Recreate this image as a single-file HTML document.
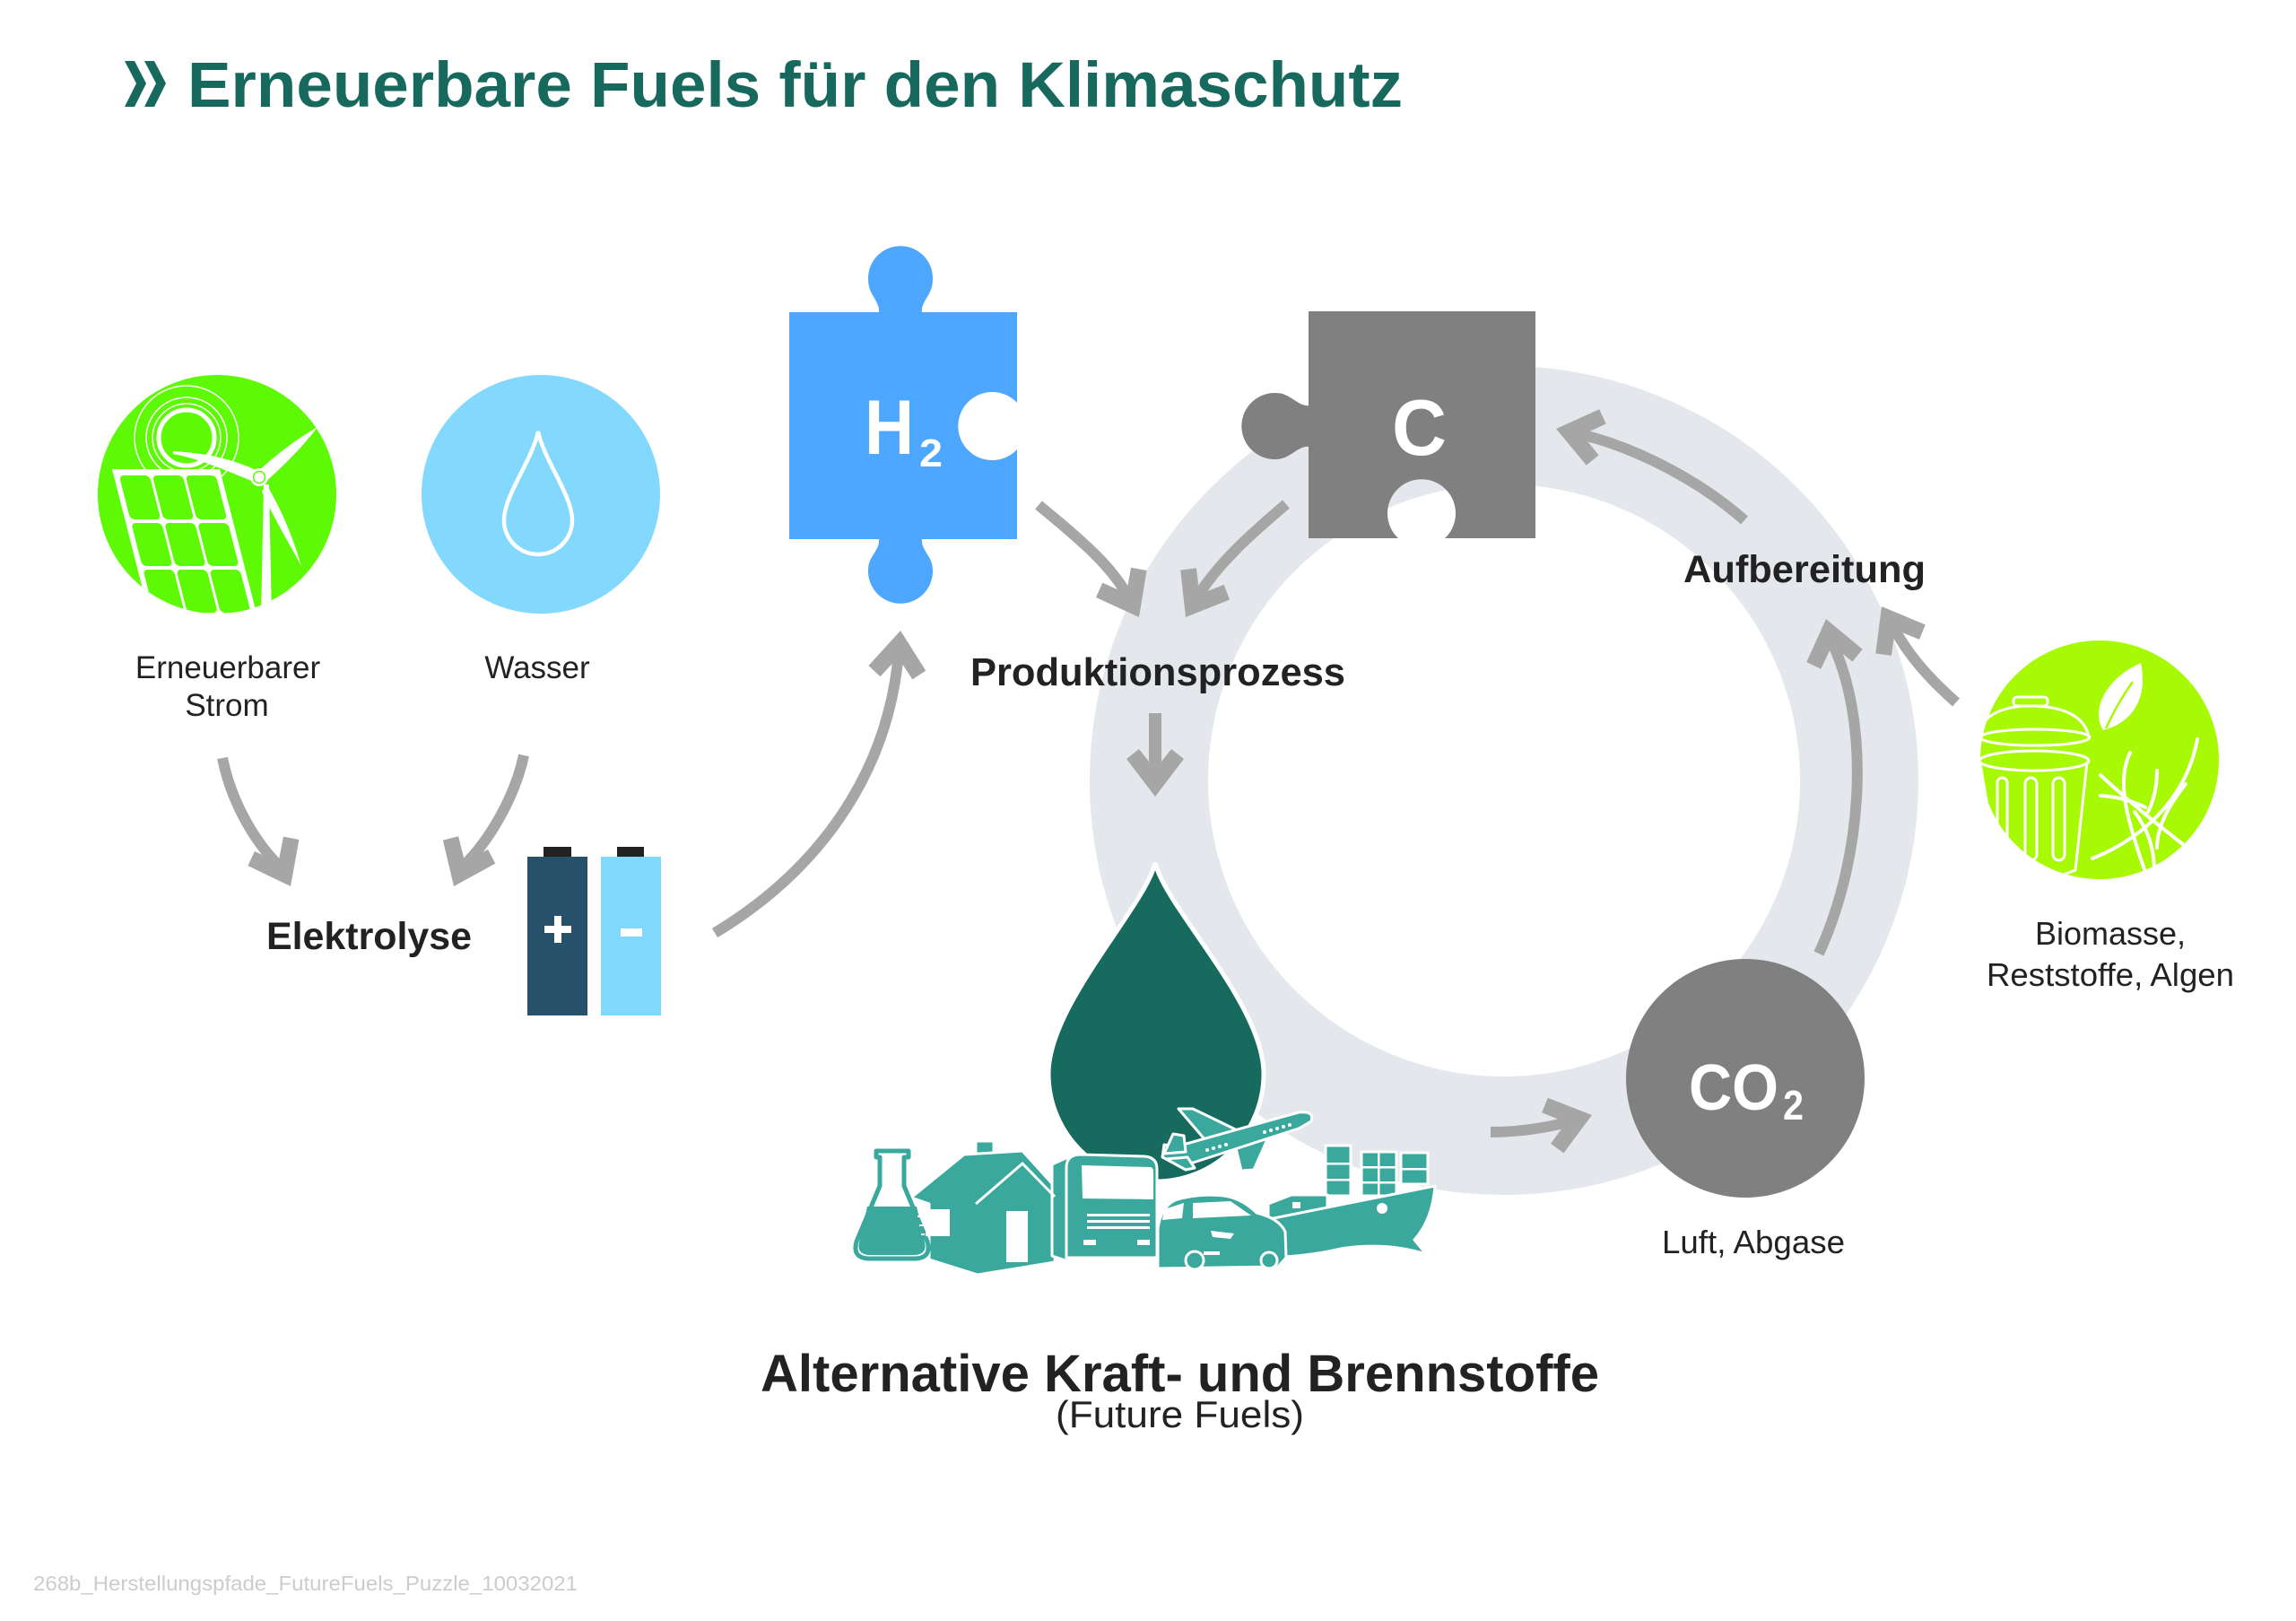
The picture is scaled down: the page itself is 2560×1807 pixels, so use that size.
<!DOCTYPE html>
<html><head><meta charset="utf-8"><style>
html,body{margin:0;padding:0;background:#fff;}
svg{display:block;}
text{font-family:"Liberation Sans",Arial,sans-serif;}
</style></head><body>
<svg width="2560" height="1807" viewBox="0 0 2560 1807" xmlns="http://www.w3.org/2000/svg">
<defs>
<path id="ah" d="M0,0 L-42,-32 L-53,-18 L-30,0 L-53,18 L-42,32 Z" fill="#a6a6a6"/>
<clipPath id="cg"><circle cx="242" cy="551" r="133"/></clipPath>
<clipPath id="cb"><circle cx="2341" cy="847" r="133"/></clipPath>
</defs>
<rect width="2560" height="1807" fill="#fff"/>

<!-- Title -->
<polygon points="139,68 150,68 163,93 150,119 139,119 152,93" fill="#17695d"/>
<polygon points="161,68 172,68 185,93 172,119 161,119 174,93" fill="#17695d"/>
<text x="209" y="119" font-size="71" font-weight="bold" fill="#17695d" textLength="1355" lengthAdjust="spacingAndGlyphs">Erneuerbare Fuels für den Klimaschutz</text>

<!-- Ring -->
<circle cx="1677" cy="870" r="396" fill="none" stroke="#e4e8ed" stroke-width="132"/>

<!-- Green energy icon -->
<circle cx="242" cy="551" r="133" fill="#5efa05"/>
<g clip-path="url(#cg)">
  <g fill="none" stroke="#fff">
    <circle cx="208" cy="488" r="31" stroke-width="5"/>
    <circle cx="208" cy="488" r="38" stroke-width="1.5"/>
    <circle cx="208" cy="488" r="45" stroke-width="1.5"/>
    <circle cx="208" cy="488" r="58" stroke-width="1.5"/>
  </g>
  <g transform="translate(125,523) skewX(14.3)">
    <rect x="0" y="0" width="120" height="220" fill="#fff"/>
    <g fill="#5efa05">
      <rect x="6" y="7" width="34" height="49" rx="5"/>
      <rect x="43" y="7" width="34" height="49" rx="5"/>
      <rect x="80" y="7" width="34" height="49" rx="5"/>
      <rect x="6" y="60" width="34" height="48" rx="5"/>
      <rect x="43" y="60" width="34" height="48" rx="5"/>
      <rect x="80" y="60" width="34" height="48" rx="5"/>
      <rect x="6" y="112" width="34" height="48" rx="5"/>
      <rect x="43" y="112" width="34" height="48" rx="5"/>
      <rect x="80" y="112" width="34" height="48" rx="5"/>
    </g>
  </g>
  <polygon points="294,540 300,540 303,690 291,690" fill="#fff"/>
  <path d="M193,503 C230,505 260,512 285,524 L283,537 C255,526 225,512 193,506 Z" fill="#fff"/>
  <path d="M286,527 C310,505 330,490 354,476 C340,495 318,518 295,538 Z" fill="#fff"/>
  <path d="M297,540 C315,570 327,600 336,631 C322,605 305,577 292,548 Z" fill="#fff"/>
  <circle cx="289" cy="532" r="10" fill="#fff"/>
  <circle cx="289" cy="532" r="6.5" fill="none" stroke="#5efa05" stroke-width="1.5"/>
</g>

<!-- Water icon -->
<circle cx="603" cy="551" r="133" fill="#82d8fd"/>
<path d="M600,481 C594,512 562,552 562,580 A38,38 0 0 0 638,580 C638,552 606,512 600,481 Z" fill="none" stroke="#fff" stroke-width="4.5"/>

<!-- Labels left -->
<g font-size="35" fill="#222" text-anchor="middle">
  <text x="254" y="756">Erneuerbarer</text>
  <text x="253" y="798">Strom</text>
  <text x="599" y="756">Wasser</text>
</g>
<text x="297" y="1058" font-size="43" font-weight="bold" fill="#222" textLength="229" lengthAdjust="spacingAndGlyphs">Elektrolyse</text>

<!-- Batteries -->
<rect x="606" y="944" width="31" height="12" fill="#222"/>
<rect x="688" y="944" width="30" height="12" fill="#222"/>
<rect x="588" y="955" width="67" height="177" fill="#27506a"/>
<rect x="670" y="955" width="67" height="177" fill="#80d9fd"/>
<rect x="618" y="1021" width="8" height="30" fill="#fff"/>
<rect x="607" y="1032" width="30" height="8" fill="#fff"/>
<rect x="692" y="1035" width="24" height="9" fill="#fff"/>

<!-- Arrows -->
<g fill="none" stroke="#a6a6a6" stroke-width="12">
  <path d="M248,845 C258,895 285,940 313,967"/>
  <path d="M584,842 C575,885 548,935 516,966"/>
  <path d="M797,1040 C905,975 990,870 1002,727"/>
  <path d="M1158,563 C1200,598 1238,628 1259,667"/>
  <path d="M1434,562 C1395,595 1358,628 1334,667"/>
  <path d="M1288,795 L1288,866" stroke-width="14"/>
  <path d="M1662,1262 C1695,1262 1725,1257 1752,1250"/>
  <path d="M2028,1063 C2080,950 2085,800 2041,713"/>
  <path d="M2181,783 C2155,760 2128,732 2110,697"/>
  <path d="M1945,580 C1900,540 1830,500 1758,483"/>
</g>
<use href="#ah" transform="translate(324,988) rotate(63)"/>
<use href="#ah" transform="translate(506,988) rotate(114)"/>
<use href="#ah" transform="translate(1004,703) rotate(-85)"/>
<use href="#ah" transform="translate(1270,688) rotate(62)"/>
<use href="#ah" transform="translate(1322,688) rotate(121)"/>
<use href="#ah" transform="translate(1288,888) rotate(90)"/>
<use href="#ah" transform="translate(1775,1243) rotate(-16)"/>
<use href="#ah" transform="translate(2036,690) rotate(-103)"/>
<use href="#ah" transform="translate(2098,676) rotate(-120)"/>
<use href="#ah" transform="translate(1735,478) rotate(-167)"/>

<!-- H2 puzzle -->
<path d="M880,348 L1134,348 L1134,449 A38,38 0 1 0 1134,501 L1134,601 L880,601 Z" fill="#4ea7fe"/>
<path d="M980,350 C982,336 969,330 968.2,314 A36,36 0 1 1 1039.8,314 C1039,330 1026,336 1028,350 Z" fill="#4ea7fe"/>
<path d="M980,599 C982,613 969,619 968.2,633 A36,36 0 1 0 1039.8,633 C1039,619 1026,613 1028,599 Z" fill="#4ea7fe"/>
<text x="964" y="506" font-size="86" font-weight="bold" fill="#fff" textLength="55" lengthAdjust="spacingAndGlyphs">H</text>
<text x="1025" y="520" font-size="44" font-weight="bold" fill="#fff" textLength="26" lengthAdjust="spacingAndGlyphs">2</text>

<!-- C puzzle -->
<path d="M1459,347 L1712,347 L1712,600 L1611,600 A38,38 0 1 0 1559,600 L1459,600 Z" fill="#808080"/>
<path d="M1461,452 C1448,454 1440,440 1426,438.3 A37,37 0 1 0 1426,511.7 C1440,510 1448,496 1461,498 Z" fill="#808080"/>
<text x="1552" y="507" font-size="88" font-weight="bold" fill="#fff" textLength="61" lengthAdjust="spacingAndGlyphs">C</text>

<!-- Produktionsprozess / Aufbereitung -->
<text x="1082" y="764" font-size="44" font-weight="bold" fill="#222" textLength="418" lengthAdjust="spacingAndGlyphs">Produktionsprozess</text>
<text x="1877" y="649" font-size="43" font-weight="bold" fill="#222" textLength="270" lengthAdjust="spacingAndGlyphs">Aufbereitung</text>

<!-- Biomass icon -->
<circle cx="2341" cy="847" r="133" fill="#a8f904"/>
<g clip-path="url(#cb)" fill="none" stroke="#fff" stroke-width="3" stroke-linecap="round">
  <rect x="2245" y="777" width="38" height="10" rx="4"/>
  <path d="M2208,814 C2214,792 2245,786 2268,787 C2300,788 2325,798 2329,822"/>
  <ellipse cx="2269" cy="822" rx="61" ry="9"/>
  <ellipse cx="2268" cy="848" rx="61" ry="11"/>
  <path d="M2208,852 L2230,978 Q2270,988 2314,970 L2327,850"/>
  <rect x="2227" y="867" width="11" height="92" rx="5.5"/>
  <rect x="2258" y="867" width="13" height="92" rx="6.5"/>
  <rect x="2289" y="867" width="13" height="92" rx="6.5"/>
  <g stroke-width="4">
    <path d="M2450,824 C2440,880 2400,930 2333,957"/>
    <path d="M2375,839 C2360,870 2370,910 2392,972"/>
    <path d="M2342,864 C2370,890 2400,915 2435,942"/>
    <path d="M2342,887 C2360,888 2378,893 2392,900"/>
    <path d="M2405,859 C2405,880 2400,895 2395,905"/>
    <path d="M2437,874 C2420,895 2405,920 2405,945"/>
    <path d="M2380,905 C2395,925 2402,945 2402,972"/>
  </g>
</g>
<path d="M2387,739 C2350,755 2330,790 2345,814 C2380,805 2395,775 2387,739 Z" fill="#fff"/>
<path d="M2348,812 Q2362,782 2378,760" fill="none" stroke="#a8f904" stroke-width="2.5"/>
<g font-size="36" fill="#222" text-anchor="middle">
  <text x="2353" y="1053">Biomasse,</text>
  <text x="2353" y="1099" textLength="276" lengthAdjust="spacingAndGlyphs">Reststoffe, Algen</text>
</g>

<!-- CO2 -->
<circle cx="1946" cy="1202" r="133" fill="#808080"/>
<text x="1883" y="1237" font-size="72" font-weight="bold" fill="#fff" textLength="100" lengthAdjust="spacingAndGlyphs">CO</text>
<text x="1988" y="1248" font-size="46" font-weight="bold" fill="#fff" textLength="23" lengthAdjust="spacingAndGlyphs">2</text>
<text x="1955" y="1397" font-size="36" fill="#222" text-anchor="middle" textLength="204" lengthAdjust="spacingAndGlyphs">Luft, Abgase</text>

<!-- Drop -->
<path d="M1288,962 C1300,1012 1409,1120 1409,1197 A120,120 0 0 1 1169,1197 C1169,1120 1276,1012 1288,962 Z" fill="#176a5e" stroke="#fff" stroke-width="5"/>

<!-- Vehicles -->
<g fill="#3aa89c" stroke="#fff" stroke-width="3" stroke-linejoin="round">
  <!-- plane -->
  <path d="M1350,1278 L1314,1236 L1330,1236 L1392,1266 Z"/>
  <path d="M1378,1280 L1384,1305 L1398,1304 L1414,1268 Z"/>
  <path d="M1296,1290 L1298,1276 L1312,1278 L1448,1240 Q1466,1238 1462,1250 L1448,1258 L1318,1300 Z"/>
  <path d="M1298,1286 L1308,1264 L1320,1266 L1322,1284 Z"/>
  <path d="M1300,1292 L1322,1304 L1332,1302 L1324,1290 Z"/>
  <!-- house -->
  <rect x="1088" y="1272" width="20" height="18"/>
  <path d="M1016,1335 L1075,1287 L1140,1283 L1179,1326 L1176,1407 L1090,1421 L1036,1404 L1036,1342 Z"/>
  <!-- flask -->
  <path d="M977,1283 L1013,1283 L1013,1290 L1008,1290 L1008,1322 L1034,1384 Q1039,1402 1021,1403 L968,1403 Q950,1402 955,1384 L981,1322 L981,1290 L977,1290 Z" fill="#fff" stroke="#3aa89c" stroke-width="5"/>
  <!-- truck -->
  <path d="M1173,1298 L1191,1290 L1191,1406 L1173,1400 Z"/>
  <path d="M1189,1300 Q1190,1287 1205,1287 L1276,1289 Q1290,1290 1290,1303 L1290,1402 L1189,1402 Z"/>
  <!-- ship -->
  <path d="M1478,1277 L1506,1277 L1506,1333 L1478,1333 Z"/>
  <path d="M1518,1284 L1557,1284 L1557,1333 L1518,1333 Z"/>
  <path d="M1562,1285 L1592,1285 L1592,1320 L1562,1320 Z"/>
  <path d="M1414,1342 L1440,1332 L1480,1332 L1480,1352 L1414,1360 Z"/>
  <path d="M1410,1360 L1600,1322 Q1597,1360 1577,1382 L1590,1398 Q1545,1384 1495,1392 Q1452,1402 1412,1401 Z"/>
  <!-- car -->
  <path d="M1291,1414 L1291,1370 Q1294,1346 1310,1338 Q1335,1330 1365,1333 Q1385,1336 1401,1352 Q1426,1358 1433,1373 L1434,1402 L1425,1412 Z"/>
  <circle cx="1332" cy="1405" r="10"/>
  <circle cx="1415" cy="1405" r="9"/>
</g>
<g fill="#3aa89c">
  <path d="M967,1345 L1022,1345 L1031,1385 Q1034,1398 1020,1399 L969,1399 Q955,1398 958,1385 Z"/>
</g>
<g fill="#fff">
  <!-- house details -->
  <rect x="1122" y="1350" width="24" height="57"/>
  <rect x="1032" y="1348" width="27" height="30"/>
  <!-- truck details -->
  <path d="M1206,1299 L1283,1301 Q1286,1302 1286,1306 L1286,1337 L1207,1336 Z"/>
  <rect x="1212" y="1353" width="70" height="3"/>
  <rect x="1212" y="1360" width="70" height="3"/>
  <rect x="1212" y="1367" width="70" height="3"/>
  <rect x="1208" y="1382" width="14" height="6"/>
  <rect x="1268" y="1382" width="14" height="6"/>
  <!-- car details -->
  <path d="M1330,1341 L1372,1339 L1395,1355 L1330,1358 Z"/>
  <path d="M1298,1348 L1320,1341 L1318,1358 L1296,1360 Z"/>
  <path d="M1350,1372 L1376,1375 L1372,1381 L1352,1379 Z"/>
  <rect x="1342" y="1395" width="18" height="4"/>
  <!-- ship details -->
  <circle cx="1541" cy="1347" r="6"/>
  <rect x="1478" y="1296" width="28" height="2.5"/>
  <rect x="1478" y="1314" width="28" height="2.5"/>
  <rect x="1518" y="1300" width="39" height="2.5"/>
  <rect x="1518" y="1317" width="39" height="2.5"/>
  <rect x="1562" y="1302" width="30" height="2.5"/>
  <rect x="1536" y="1284" width="2.5" height="49"/>
  <rect x="1441" y="1340" width="9" height="7"/>
  <!-- plane windows -->
  <circle cx="1410" cy="1262" r="2"/><circle cx="1417" cy="1260" r="2"/><circle cx="1424" cy="1258" r="2"/><circle cx="1431" cy="1256" r="2"/><circle cx="1438" cy="1254" r="2"/>
  <circle cx="1346" cy="1282" r="2"/><circle cx="1353" cy="1280" r="2"/><circle cx="1360" cy="1278" r="2"/><circle cx="1367" cy="1276" r="2"/>
</g>
<polyline points="1088,1342 1140,1297 1176,1334" fill="none" stroke="#fff" stroke-width="3"/>
<g fill="#fff">
  <rect x="1023" y="1355" width="4" height="2"/><rect x="1025" y="1365" width="4" height="2"/><rect x="1027" y="1375" width="4" height="2"/>
</g>

<!-- Bottom text -->
<text x="848" y="1551" font-size="58" font-weight="bold" fill="#222" textLength="935" lengthAdjust="spacingAndGlyphs">Alternative Kraft- und Brennstoffe</text>
<text x="1177" y="1591" font-size="42" fill="#222" textLength="277" lengthAdjust="spacingAndGlyphs">(Future Fuels)</text>

<!-- Footer -->
<text x="37" y="1773" font-size="23" fill="#cccccc" textLength="607" lengthAdjust="spacingAndGlyphs">268b_Herstellungspfade_FutureFuels_Puzzle_10032021</text>
</svg>
</body></html>
